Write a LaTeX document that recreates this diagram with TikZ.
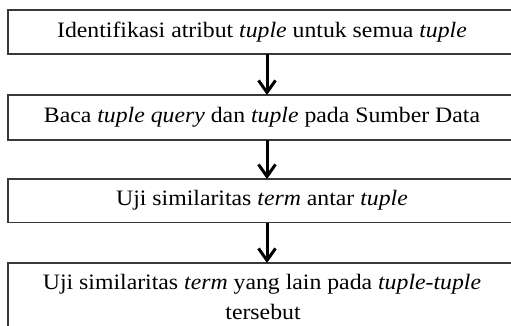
\documentclass[tikz,border=0pt]{standalone}
\usepackage{fontspec}
\setmainfont{Liberation Serif}[FakeStretch=1.08]
\usetikzlibrary{arrows.meta}
\begin{document}
\begin{tikzpicture}[x=1pt,y=-1pt,
  stepbox/.style={draw=black!78, line width=1.3pt, minimum width=508pt,
    inner sep=0pt, outer sep=0pt},
  steptext/.style={anchor=base, inner sep=0pt, font=\fontsize{22}{30}\selectfont},
  flow/.style={line width=3pt, -{Straight Barb[length=12pt,width=17pt,line width=3pt]}}]
\useasboundingbox (0,0) rectangle (511,326);

% process boxes (right edges run past the page)
\node[stepbox, minimum height=44pt]   (b1) at (262,32)    {};
\node[stepbox, minimum height=45pt]   (b2) at (262,117.5) {};
\node[stepbox, minimum height=43.7pt] (b3) at (262,200.9) {};
\node[stepbox, minimum height=70pt]   (b4) at (262,298)   {};

% step texts
\node[steptext] (t1) at (262,37.3)  {Identifikasi atribut \textit{tuple} untuk semua \textit{tuple}};
\node[steptext] (t2) at (262,122.7) {Baca \textit{tuple query} dan \textit{tuple} pada Sumber Data};
\node[steptext] (t3) at (262,205)   {Uji similaritas \textit{term} antar \textit{tuple}};
\node[steptext] (t4) at (262,289.3) {Uji similaritas \textit{term} yang lain pada \textit{tuple-tuple}};
\node[steptext] (t5) at (263,319.3) {tersebut};

% connectors
\draw[flow] ([xshift=5pt]b1.south) -- ([xshift=5pt]b2.north);
\draw[flow] ([xshift=5pt]b2.south) -- ([xshift=5pt]b3.north);
\draw[flow] ([xshift=5pt]b3.south) -- ([xshift=5pt]b4.north);
\end{tikzpicture}
\end{document}
